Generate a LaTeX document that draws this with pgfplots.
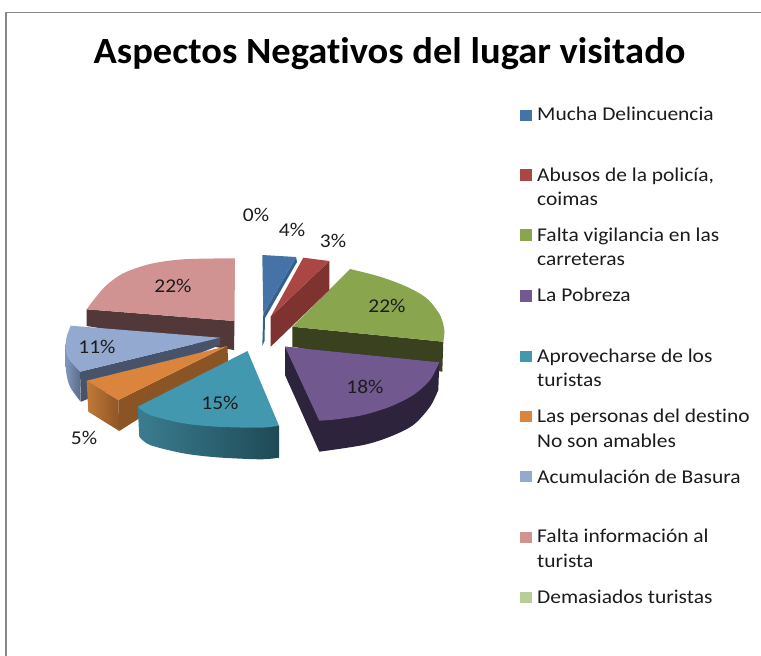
\documentclass[border=0pt]{standalone}
\usepackage{graphicx}
\usepackage{fontspec}
\setmainfont{Carlito}[Ligatures=NoCommon]
\usepackage{pgfplots}
\pgfplotsset{compat=1.18}
\definecolor{txt}{HTML}{1C1C1C}
\definecolor{bluetop}{HTML}{4573A7}
\definecolor{blueside}{HTML}{34608F}
\definecolor{redtop}{HTML}{AA4644}
\definecolor{redside}{HTML}{7F3331}
\definecolor{greentop}{HTML}{89A54E}
\definecolor{greenside}{HTML}{3A411F}
\definecolor{purpletop}{HTML}{71588F}
\definecolor{purpleside}{HTML}{2E233D}
\definecolor{tealtop}{HTML}{4198AF}
\definecolor{tealrimA}{HTML}{3A7D90}
\definecolor{tealrimB}{HTML}{1F4A56}
\definecolor{ortop}{HTML}{DB843D}
\definecolor{orside}{HTML}{8A5424}
\definecolor{orrimA}{HTML}{C07A38}
\definecolor{orrimB}{HTML}{8F5526}
\definecolor{lbtop}{HTML}{93A9CF}
\definecolor{lbside}{HTML}{47536B}
\definecolor{lbrimA}{HTML}{8097BD}
\definecolor{lbrimB}{HTML}{5A6B88}
\definecolor{pinktop}{HTML}{D19392}
\definecolor{pinkside}{HTML}{533839}
\definecolor{lgreen}{HTML}{B9CD96}
\definecolor{frame}{HTML}{868686}
\newcommand{\leg}[3]{\node[anchor=base west,inner sep=0pt,text=txt] at (axis cs:#1,#2) {\fontsize{19.5}{19.5}\selectfont\scalebox{1.1}[1]{#3}};}
\newcommand{\pct}[3]{\node[anchor=base,inner sep=0pt,text=txt] at (axis cs:#1,#2) {\fontsize{19.5}{19.5}\selectfont\scalebox{1.1}[1]{#3}};}
\begin{document}
\begin{tikzpicture}
\begin{axis}[
  scale only axis, width=761pt, height=656pt,
  xmin=0, xmax=761, ymin=0, ymax=656, y dir=reverse,
  axis lines=none, ticks=none, clip=true, no markers,
  every axis plot/.append style={draw=none, solid},
]
% page background and frame
\addplot[fill=white] coordinates {(0,0) (761,0) (761,656) (0,656)} --cycle;
\addplot[draw=frame, line width=1.5pt] coordinates {(6,656) (6,12.5) (761,12.5)};

% the coordinates of a smooth plot are the arc, the rest of the slice follows it
% pink, 22%
\addplot[fill=pinkside] coordinates {(86.7,309.3) (234.5,321) (234,350) (86.7,326)} --cycle;
\addplot[smooth, fill=pinktop] coordinates {(86.7,309.3) (95,298.3) (106.7,285) (123.3,273.3) (150,264) (183.3,259.3) (235,258.3)} -- (axis cs:234.5,321) --cycle;
% light blue, 11%
\addplot[smooth, left color=lbrimA, right color=lbrimB] coordinates {(80.7,401.7) (70,386.7) (65.9,370) (65.7,344)} -- (axis cs:80,371.7) --cycle;
\addplot[fill=lbside] coordinates {(80,371.7) (220,337.7) (220,345) (81,401.7)} --cycle;
\addplot[smooth, fill=lbtop] coordinates {(70.7,325.7) (66.7,336.7) (65.7,346.7) (68.3,358.3) (80,371.7)} -- (axis cs:220,337.7) --cycle;
% orange, 5%
\addplot[left color=orrimA, right color=orrimB] coordinates {(86.7,380.7) (118.3,400) (119.3,431) (88.3,411.7)} --cycle;
\addplot[fill=orside] coordinates {(118.3,400) (227.3,346) (228.3,361.7) (119.3,431)} --cycle;
\addplot[fill=ortop] coordinates {(86.7,380.7) (118.3,400) (227.3,346)} --cycle;
% teal, 15%
\addplot[smooth, left color=tealrimA, right color=tealrimB] coordinates {(279,457.7) (260,459.3) (216.7,457.3) (183.3,453.3) (150,445) (139.3,436.7)} -- (axis cs:137.7,406.7) -- (axis cs:279,425.7) --cycle;
\addplot[smooth, fill=tealtop] coordinates {(137.7,406.7) (150,415) (183.3,423.3) (216.7,426.7) (260,427.7) (279,425.7)} -- (axis cs:247.5,351) --cycle;
% green, 22%
\addplot[fill=greenside] coordinates {(292.3,326.7) (443.3,341.7) (442.3,371.7) (292.3,346.7)} --cycle;
\addplot[smooth, fill=greentop] coordinates {(443.3,341.7) (444.3,330) (440,315) (426.7,298.3) (406.7,286.7) (380,276.7) (350,269)} -- (axis cs:292.3,326.7) --cycle;
% purple, 18%
\addplot[smooth, fill=purpleside] coordinates {(319.3,451.7) (363.3,445) (390,436.7) (413.3,425) (430,406.7) (438.3,390)} -- (axis cs:439.3,362.3) -- (axis cs:285,346.7) -- (axis cs:285,375) --cycle;
\addplot[smooth, fill=purpletop] coordinates {(439.3,362.3) (430,380) (413.3,395) (390,406.7) (363.3,415) (336.7,419.3) (319.3,420.7)} -- (axis cs:285,346.7) --cycle;
% blue, 4%
\addplot[fill=blueside] coordinates {(296,257) (263.3,314) (262.3,346) (264.5,341) (265,318) (297,262)} --cycle;
\addplot[fill=bluetop] coordinates {(262.3,255) (296,257) (263.3,314)} --cycle;
% red, 3%
\addplot[fill=redside] coordinates {(329.3,261) (270.7,316.7) (270.7,346.7) (329.3,290)} --cycle;
\addplot[fill=redtop] coordinates {(303.3,257.7) (329.3,261) (270.7,316.7)} --cycle;

% legend keys
\addplot[fill=bluetop] coordinates {(520,110) (532,110) (532,121) (520,121)} --cycle;
\addplot[fill=redtop] coordinates {(520,169) (532,169) (532,181) (520,181)} --cycle;
\addplot[fill=greentop] coordinates {(520,229) (532,229) (532,241) (520,241)} --cycle;
\addplot[fill=purpletop] coordinates {(520,290) (532,290) (532,302) (520,302)} --cycle;
\addplot[fill=tealtop] coordinates {(520,351) (532,351) (532,362) (520,362)} --cycle;
\addplot[fill=ortop] coordinates {(520,411) (532,411) (532,422) (520,422)} --cycle;
\addplot[fill=lbtop] coordinates {(520,471) (532,471) (532,482) (520,482)} --cycle;
\addplot[fill=pinktop] coordinates {(520,532) (532,532) (532,543) (520,543)} --cycle;
\addplot[fill=lgreen] coordinates {(520,592) (532,592) (532,603) (520,603)} --cycle;

\node[anchor=base,inner sep=0pt,text=black] at (axis cs:389.5,63) {\fontsize{37}{37}\selectfont\bfseries\scalebox{1.04}[1]{Aspectos Negativos del lugar visitado}};

\leg{537}{120}{Mucha Delincuencia}
\leg{537}{181}{Abusos de la policía,}
\leg{537}{205}{coimas}
\leg{537}{241}{Falta vigilancia en las}
\leg{537}{265}{carreteras}
\leg{537}{301}{La Pobreza}
\leg{537}{362}{Aprovecharse de los}
\leg{537}{386}{turistas}
\leg{537}{422}{Las personas del destino}
\leg{537}{447}{No son amables}
\leg{537}{483}{Acumulación de Basura}
\leg{537}{542}{Falta información al}
\leg{537}{567}{turista}
\leg{537}{603}{Demasiados turistas}

\pct{256}{221}{0\%}
\pct{292}{236}{4\%}
\pct{333}{247}{3\%}
\pct{173}{292}{22\%}
\pct{387}{312}{22\%}
\pct{365}{393}{18\%}
\pct{220}{409}{15\%}
\pct{97}{353}{11\%}
\pct{84}{444}{5\%}
\end{axis}
\end{tikzpicture}
\end{document}
